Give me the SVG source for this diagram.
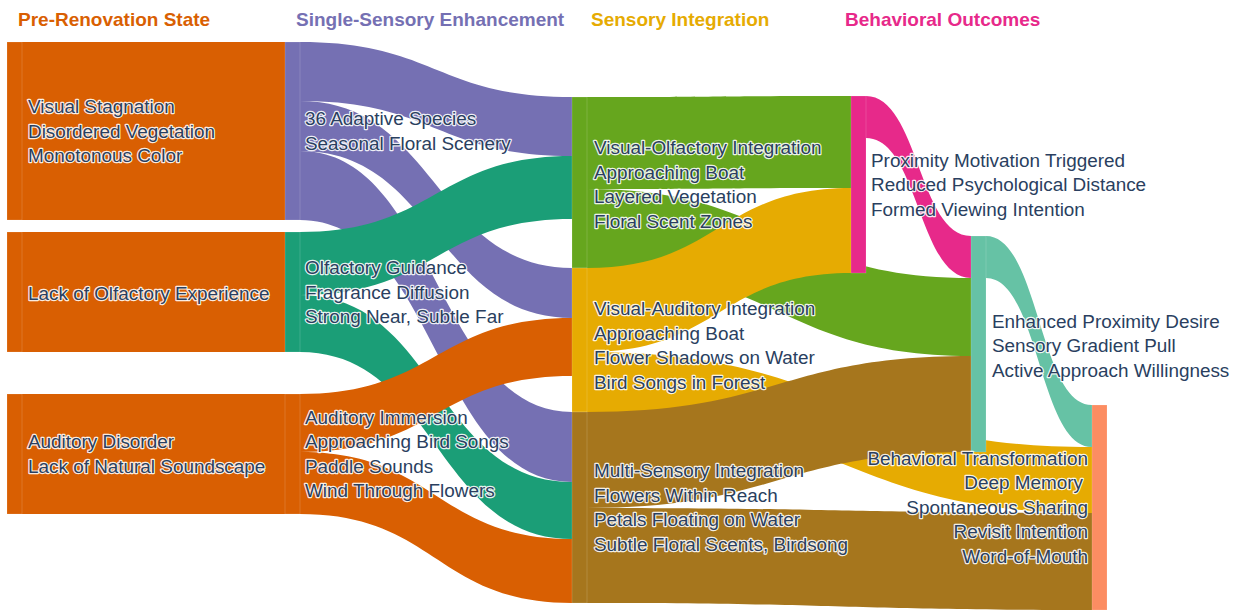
<svg xmlns="http://www.w3.org/2000/svg" width="1236" height="613" viewBox="0 0 1236 613">
<style>
.hdr{font-family:"Liberation Sans",Arial,sans-serif;font-size:19px;font-weight:bold}
.lbl{font-family:"Liberation Sans",Arial,sans-serif;font-size:18.9px;fill:#2a3f5f;stroke:#fff;stroke-width:2.4;stroke-linejoin:round;paint-order:stroke fill;stroke-opacity:0.9}
.end{text-anchor:end}
.node{stroke:#fff;stroke-opacity:0.3;stroke-width:0.5}
.c-or{fill:#d95f02}.c-pu{fill:#7570b3}.c-tg{fill:#1b9e77}.c-gr{fill:#66a61e}.c-ye{fill:#e6ab02}.c-br{fill:#a6761d}.c-pk{fill:#e7298a}.c-tl{fill:#66c2a5}.c-sa{fill:#fc8d62}
</style>
<rect width="1236" height="613" fill="#fff"/>
<g id="headers">
<text class="hdr" x="18" y="26" fill="#d95f02">Pre-Renovation State</text>
<text class="hdr" x="296" y="26" fill="#7570b3">Single-Sensory Enhancement</text>
<text class="hdr" x="591" y="26" fill="#e6ab02">Sensory Integration</text>
<text class="hdr" x="845" y="26" fill="#e7298a">Behavioral Outcomes</text>
</g>
<g id="links">
<path class="c-or" d="M22,42 H285 V220 H22 Z"/>
<path class="c-or" d="M22,232 H285 V352 H22 Z"/>
<path class="c-or" d="M22,394 H285 V514 H22 Z"/>
<path class="c-pu" d="M300,42 C436,42 436,97 572,97 L572,156 C436,156 436,101 300,101 Z"/>
<path class="c-pu" d="M300,101 C436,101 436,268 572,268 L572,318 C436,318 436,151 300,151 Z"/>
<path class="c-pu" d="M300,151 C436,151 436,412 572,412 L572,482 C436,482 436,220 300,220 Z"/>
<path class="c-tg" d="M300,232 C436,232 436,156 572,156 L572,219 C436,219 436,295 300,295 Z"/>
<path class="c-tg" d="M300,295 C436,295 436,482 572,482 L572,539 C436,539 436,352 300,352 Z"/>
<path class="c-or" d="M300,394 C436,394 436,318 572,318 L572,376 C436,376 436,452 300,452 Z"/>
<path class="c-or" d="M300,452 C436,452 436,539 572,539 L572,603 C436,603 436,514 300,514 Z"/>
<path class="c-gr" d="M587,97 C719,97 719,96 851,96 L851,188 C719,188 719,189 587,189 Z"/>
<path class="c-gr" d="M587,189 C779,189 779,278 971,278 L971,356 C779,356 779,268 587,268 Z"/>
<path class="c-ye" d="M587,268 C719,268 719,188 851,188 L851,273 C719,273 719,352 587,352 Z"/>
<path class="c-ye" d="M587,352 C839.5,352 839.5,447 1092,447 L1092,513 C839.5,513 839.5,412 587,412 Z"/>
<path class="c-br" d="M587,412 C779,412 779,356 971,356 L971,452 C779,452 779,508 587,508 Z"/>
<path class="c-br" d="M587,508 C839.5,508 839.5,513 1092,513 L1092,610 C839.5,610 839.5,603 587,603 Z"/>
<path class="c-pk" d="M866,96 C918.5,96 918.5,236 971,236 L971,278 C918.5,278 918.5,138 866,138 Z"/>
<path class="c-tl" d="M986,236 C1039,236 1039,405 1092,405 L1092,447 C1039,447 1039,278 986,278 Z"/>
</g>
<g id="node-visual-stagnation">
<rect class="node c-or" x="7" y="42" width="15" height="178"/>
<text class="lbl" x="28" y="113">Visual Stagnation</text>
<text class="lbl" x="28" y="137.5">Disordered Vegetation</text>
<text class="lbl" x="28" y="162">Monotonous Color</text>
</g>
<g id="node-lack-olfactory">
<rect class="node c-or" x="7" y="232" width="15" height="120"/>
<text class="lbl" x="28" y="299.5">Lack of Olfactory Experience</text>
</g>
<g id="node-auditory-disorder">
<rect class="node c-or" x="7" y="394" width="15" height="120"/>
<text class="lbl" x="28" y="448.3">Auditory Disorder</text>
<text class="lbl" x="28" y="472.8">Lack of Natural Soundscape</text>
</g>
<g id="node-adaptive-species">
<rect class="node c-pu" x="285" y="42" width="15" height="178"/>
<text class="lbl" x="305" y="125.3">36 Adaptive Species</text>
<text class="lbl" x="305" y="149.8">Seasonal Floral Scenery</text>
</g>
<g id="node-olfactory-guidance">
<rect class="node c-tg" x="285" y="232" width="15" height="120"/>
<text class="lbl" x="305" y="274">Olfactory Guidance</text>
<text class="lbl" x="305" y="298.5">Fragrance Diffusion</text>
<text class="lbl" x="305" y="323">Strong Near, Subtle Far</text>
</g>
<g id="node-auditory-immersion">
<rect class="node c-or" x="285" y="394" width="15" height="120"/>
<text class="lbl" x="305" y="423.8">Auditory Immersion</text>
<text class="lbl" x="305" y="448.3">Approaching Bird Songs</text>
<text class="lbl" x="305" y="472.8">Paddle Sounds</text>
<text class="lbl" x="305" y="497.3">Wind Through Flowers</text>
</g>
<g id="node-visual-olfactory">
<rect class="node c-gr" x="572" y="97" width="15" height="171"/>
<text class="lbl" x="594" y="154.3">Visual-Olfactory Integration</text>
<text class="lbl" x="594" y="178.8">Approaching Boat</text>
<text class="lbl" x="594" y="203.3">Layered Vegetation</text>
<text class="lbl" x="594" y="227.8">Floral Scent Zones</text>
</g>
<g id="node-visual-auditory">
<rect class="node c-ye" x="572" y="268" width="15" height="144"/>
<text class="lbl" x="594" y="315.3">Visual-Auditory Integration</text>
<text class="lbl" x="594" y="339.8">Approaching Boat</text>
<text class="lbl" x="594" y="364.3">Flower Shadows on Water</text>
<text class="lbl" x="594" y="388.8">Bird Songs in Forest</text>
</g>
<g id="node-multi-sensory">
<rect class="node c-br" x="572" y="412" width="15" height="191"/>
<text class="lbl" x="594" y="477.3">Multi-Sensory Integration</text>
<text class="lbl" x="594" y="501.8">Flowers Within Reach</text>
<text class="lbl" x="594" y="526.3">Petals Floating on Water</text>
<text class="lbl" x="594" y="550.8">Subtle Floral Scents, Birdsong</text>
</g>
<g id="node-proximity-motivation">
<rect class="node c-pk" x="851" y="96" width="15" height="177"/>
<text class="lbl" x="871" y="166.5">Proximity Motivation Triggered</text>
<text class="lbl" x="871" y="191">Reduced Psychological Distance</text>
<text class="lbl" x="871" y="215.5">Formed Viewing Intention</text>
</g>
<g id="node-enhanced-proximity">
<rect class="node c-tl" x="971" y="236" width="15" height="216"/>
<text class="lbl" x="992" y="327.5">Enhanced Proximity Desire</text>
<text class="lbl" x="992" y="352">Sensory Gradient Pull</text>
<text class="lbl" x="992" y="376.5">Active Approach Willingness</text>
</g>
<g id="node-behavioral-transformation">
<rect class="node c-sa" x="1092" y="405" width="15" height="205"/>
<text class="lbl end" x="1088" y="464.5">Behavioral Transformation</text>
<text class="lbl end" x="1083" y="489">Deep Memory</text>
<text class="lbl end" x="1088" y="513.5">Spontaneous Sharing</text>
<text class="lbl end" x="1088" y="538">Revisit Intention</text>
<text class="lbl end" x="1088" y="562.5">Word-of-Mouth</text>
</g>
</svg>
